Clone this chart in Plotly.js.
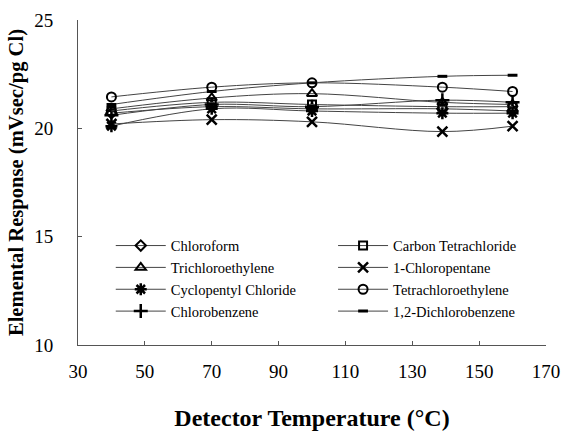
<!DOCTYPE html>
<html>
<head>
<meta charset="utf-8">
<script src="https://cdn.plot.ly/plotly-3.0.1.min.js"></script>
<style>
  html, body { margin: 0; padding: 0; background: #fff; }
  #chart { width: 563px; height: 434px; }
</style>
</head>
<body>
<div id="chart"></div>
<script>
// Detector temperatures (°C)
const temperatures = [40, 70, 100, 139, 160];

// Elemental response (mVsec/pg Cl) per compound
const chloroform          = [20.7, 21.0, 20.9, 20.9, 20.8];
const carbonTetrachloride = [20.8, 21.2, 21.1, 21.0, 21.0];
const trichloroethylene   = [20.9, 21.4, 21.6, 21.2, 21.1];
const chloropentane       = [20.2, 20.4, 20.3, 19.85, 20.1];
const cyclopentylChloride = [20.1, 20.9, 20.8, 20.7, 20.7];
const tetrachloroethylene = [21.45, 21.9, 22.1, 21.9, 21.7];
const chlorobenzene       = [20.6, 21.1, 21.0, 21.3, 21.2];
const dichlorobenzene     = [21.1, 21.7, 22.1, 22.4, 22.45];

// Left legend column: legend, right legend column: legend2
const series = [
  { name: 'Chloroform',           y: chloroform,          symbol: 'diamond-open',     size: 8,  lw: 2,   legend: 'legend' },
  { name: 'Trichloroethylene',    y: trichloroethylene,   symbol: 'triangle-up-open', size: 9,  lw: 2,   legend: 'legend' },
  { name: 'Cyclopentyl Chloride', y: cyclopentylChloride, symbol: 'asterisk-open',    size: 10, lw: 2.5, legend: 'legend' },
  { name: 'Chlorobenzene',        y: chlorobenzene,       symbol: 'cross-thin-open',  size: 10, lw: 2.5, legend: 'legend' },
  { name: 'Carbon Tetrachloride', y: carbonTetrachloride, symbol: 'square-open',      size: 8,  lw: 2,   legend: 'legend2' },
  { name: '1-Chloropentane',      y: chloropentane,       symbol: 'x-thin-open',      size: 10, lw: 2.5, legend: 'legend2' },
  { name: 'Tetrachloroethylene',  y: tetrachloroethylene, symbol: 'circle-open',      size: 9,  lw: 2,   legend: 'legend2' },
  { name: '1,2-Dichlorobenzene',  y: dichlorobenzene,     symbol: 'line-ew-open',     size: 7,  lw: 3,   legend: 'legend2' }
];

const traces = series.map(s => ({
  type: 'scatter',
  mode: 'lines+markers',
  name: s.name,
  legend: s.legend,
  x: temperatures,
  y: s.y,
  line: { color: '#444', width: 1, shape: 'spline', smoothing: 1 },
  marker: { symbol: s.symbol, size: s.size, color: '#000', line: { color: '#000', width: s.lw } }
}));

const serif = 'Liberation Serif, Times New Roman, serif';

const legendStyle = (x) => ({
  orientation: 'v',
  x: x, xanchor: 'left',
  y: 0.355, yanchor: 'top',
  itemwidth: 50,
  font: { family: serif, size: 14.5, color: '#000' },
  bgcolor: 'rgba(0,0,0,0)',
  tracegroupgap: 0
});

const layout = {
  width: 563,
  height: 434,
  margin: { l: 78, r: 17, t: 20, b: 89 },
  paper_bgcolor: '#fff',
  plot_bgcolor: '#fff',
  font: { family: serif, color: '#000' },
  showlegend: true,
  legend: legendStyle(0.07),
  legend2: legendStyle(0.545),
  xaxis: {
    range: [30, 170],
    tick0: 30, dtick: 20,
    ticks: 'inside', ticklen: 4, tickcolor: '#555',
    showline: true, linecolor: '#555', linewidth: 1,
    showgrid: false, zeroline: false,
    tickfont: { family: serif, size: 19 },
    ticklabelstandoff: 9,
    title: { text: '<b>Detector Temperature (°C)</b>', font: { family: serif, size: 24 }, standoff: 28 }
  },
  yaxis: {
    range: [10, 25],
    tick0: 10, dtick: 5,
    ticks: 'inside', ticklen: 4, tickcolor: '#555',
    showline: true, linecolor: '#555', linewidth: 1,
    showgrid: false, zeroline: false,
    tickfont: { family: serif, size: 19 },
    ticklabelstandoff: 20,
    title: { text: '<b>Elemental Response (mVsec/pg Cl)</b>', font: { family: serif, size: 20.6 }, standoff: 4 }
  }
};

Plotly.newPlot('chart', traces, layout, { displayModeBar: false, staticPlot: true });
</script>
</body>
</html>
